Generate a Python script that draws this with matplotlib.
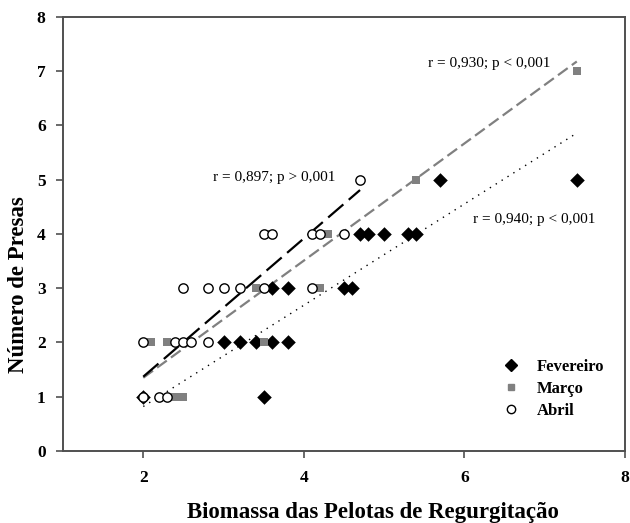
import matplotlib
matplotlib.use("Agg")
import matplotlib.pyplot as plt
from matplotlib.lines import Line2D

# Fevereiro (black diamonds)
fev_x = [2.0, 3.5, 3.0, 3.2, 3.4, 3.6, 3.8, 3.6, 3.8, 4.5, 4.6,
         4.7, 4.8, 5.0, 5.3, 5.4, 5.7, 7.4]
fev_y = [1, 1, 2, 2, 2, 2, 2, 3, 3, 3, 3, 4, 4, 4, 4, 4, 5, 5]

# Março (grey squares)
mar_x = [2.4, 2.5, 2.1, 2.3, 3.5, 3.4, 4.2, 3.6, 4.3, 5.4, 7.4]
mar_y = [1, 1, 2, 2, 2, 3, 3, 4, 4, 5, 7]

# Abril (open circles)
abr_x = [2.0, 2.2, 2.3, 2.0, 2.4, 2.5, 2.6, 2.8, 2.5, 2.8, 3.0, 3.2,
         3.5, 4.1, 3.5, 3.6, 4.1, 4.2, 4.5, 4.7]
abr_y = [1, 1, 1, 2, 2, 2, 2, 2, 3, 3, 3, 3, 3, 3, 4, 4, 4, 4, 4, 5]

# regression lines, end points
fev_fit_x = [2.0, 7.4]
fev_fit_y = [0.82, 5.86]
mar_fit_x = [2.0, 7.4]
mar_fit_y = [1.35, 7.18]
abr_fit_x = [2.0, 4.7]
abr_fit_y = [1.37, 4.81]

labels = ["Fevereiro", "Março", "Abril"]
notes = ["r = 0,897; p > 0,001", "r = 0,930; p < 0,001", "r = 0,940; p < 0,001"]

plt.rcParams["font.family"] = ["Liberation Serif", "DejaVu Serif"]

fig = plt.figure(figsize=(6.3, 5.23), dpi=100)
ax = fig.add_axes([0.1, 0.1377, 0.892, 0.8298])

grey = "#808080"

ax.plot(fev_fit_x, fev_fit_y, color="black", lw=1.0, ls=(0, (1, 4)), zorder=1)
ax.plot(mar_fit_x, mar_fit_y, color=grey, lw=1.6, ls=(0, (5.4, 2.3)), zorder=1)
ax.plot(abr_fit_x, abr_fit_y, color="black", lw=1.6, ls=(0, (9, 3.2)), zorder=1)

ax.scatter(fev_x, fev_y, marker="D", s=55, color="black", linewidths=0, zorder=2)
ax.scatter(mar_x, mar_y, marker="s", s=36, color=grey, linewidths=0, zorder=3)
ax.scatter(abr_x, abr_y, marker="o", s=45, facecolors="white", edgecolors="black",
           linewidths=1.0, zorder=4)

ax.text(3.63, 5.05, notes[0], fontsize=11, ha="center", va="center")
ax.text(6.31, 7.15, notes[1], fontsize=11, ha="center", va="center")
ax.text(6.87, 4.26, notes[2], fontsize=11, ha="center", va="center")

handles = [
    Line2D([], [], marker="D", ls="none", color="black", markersize=6.5),
    Line2D([], [], marker="s", ls="none", color=grey, markersize=5),
    Line2D([], [], marker="o", ls="none", markerfacecolor="white",
           markeredgecolor="black", markersize=6),
]
leg = ax.legend(handles, labels, loc="lower right", bbox_to_anchor=(0.99, 0.04),
                frameon=False, handletextpad=0.55, labelspacing=0.35,
                prop={"weight": "bold", "size": 12})

ax.set_xlim(1, 8)
ax.set_ylim(0, 8)
ax.set_xticks([2, 4, 6, 8])
ax.set_yticks(range(0, 9))

for sp in ax.spines.values():
    sp.set_color("#505050")
    sp.set_linewidth(1.4)
ax.tick_params(direction="out", length=5, width=1.2, color="#505050",
               labelsize=12.5, pad=7.5)
ax.tick_params(axis="x", pad=9)
for t in ax.get_xticklabels() + ax.get_yticklabels():
    t.set_fontweight("bold")

ax.set_xlabel("Biomassa das Pelotas de Regurgitação", fontsize=16.5,
              fontweight="bold", va="center")
ax.xaxis.set_label_coords(0.552, -0.1406)
ax.set_ylabel("Número de Presas", fontsize=16.5, fontweight="bold", va="center")
ax.yaxis.set_label_coords(-0.080, 0.3825)

fig.savefig("out.png", dpi=100)
